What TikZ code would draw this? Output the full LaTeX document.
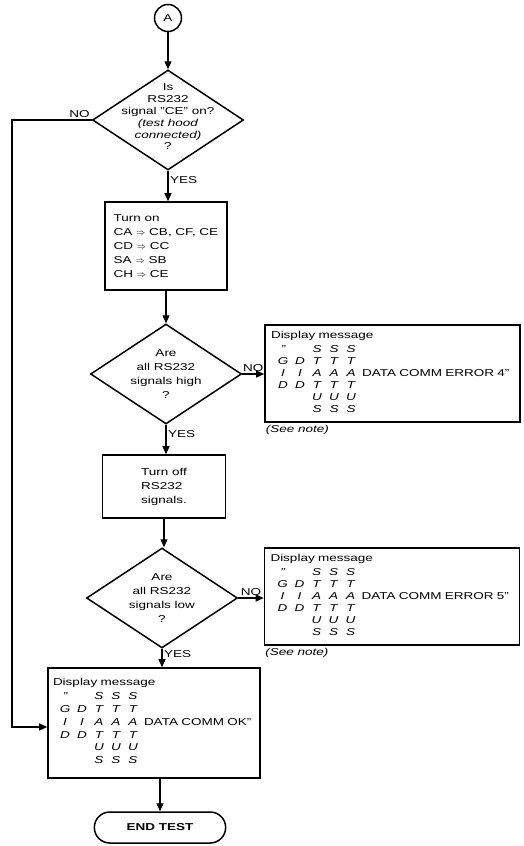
\documentclass[tikz,border=0pt]{standalone}
\usepackage{fontspec}
\setmainfont[FakeStretch=1.35]{Liberation Sans}
\usepackage{array}
\usepackage{tikz}
\usetikzlibrary{shapes,arrows.meta,positioning}

\newcommand{\turnsto}{{\small$\Rightarrow$}}
\newcommand{\msglines}[1]{%
  Display message\\[2pt]
  \begin{tabular}{@{\hspace{6pt}}*{5}{>{\itshape}w{c}{12pt}@{\hspace{5pt}}}l@{}}
    ''\hspace{5pt} & & S & S & S \\
    G & D & T & T & T \\
    I & I & A & A & A & #1 \\
    D & D & T & T & T \\
      &   & U & U & U \\
      &   & S & S & S
  \end{tabular}}

\begin{document}
\begin{tikzpicture}[x=1pt, y=-1pt, font=\fontsize{10}{12}\selectfont,
    line width=1.3pt, >={Triangle[length=8pt,width=7pt]},
    conn/.style={draw, circle, minimum size=27pt, inner sep=0pt, line width=1.5pt},
    decision/.style={draw, diamond, minimum width=151pt, minimum height=100pt, inner sep=0pt, line width=1.5pt},
    dtext/.style={align=center, inner sep=0pt},
    proc/.style={draw, rectangle, align=left, line width=1.6pt},
    msg/.style={draw, rectangle, align=left, line width=1.6pt, inner xsep=6pt, text width=243pt, minimum height=97pt},
    term/.style={draw, rounded rectangle, minimum width=138pt, minimum height=31pt, line width=1.5pt, font=\bfseries},
    yes/.style={right, pos=0.3, inner sep=1.5pt},
    note/.style={font=\itshape, inner sep=1pt}]
    \useasboundingbox (0,0) rectangle (523,846);

    \node[conn] (A) at (168,18) {A};
    \node[decision] (d1) at (168,120) {};
    \node[dtext, font=\fontsize{10}{11.8}\selectfont] (d1t) at (168,117) {Is\\RS232\\signal ''CE'' on?\\\textit{(test hood}\\\textit{connected)}\\?};
    \node[proc, minimum width=122pt, minimum height=88pt, font=\fontsize{10}{14}\selectfont] (on) at (166,246)
        {Turn on\\CA \turnsto{} CB, CF, CE\\CD \turnsto{} CC\\SA \turnsto{} SB\\CH \turnsto{} CE};

    \node[decision] (d2) at (166,374) {};
    \node[dtext, font=\fontsize{10}{14}\selectfont] (d2t) at (d2) {Are\\all RS232\\signals high\\?};
    \node[msg] (err1) at (392.5,373.5) {\msglines{DATA COMM ERROR 4''}};
    \node[note, below right=1pt and 0pt of err1.south west] (note1) {(See note)};

    \node[proc, minimum width=123pt, minimum height=63pt, font=\fontsize{10}{14}\selectfont] (off) at (164,486.5) {Turn off\\RS232\\signals.};

    \node[decision] (d3) at (162,598) {};
    \node[dtext, font=\fontsize{10}{14}\selectfont] (d3t) at (d3) {Are\\all RS232\\signals low\\?};
    \node[msg] (err2) at (392,596.5) {\msglines{DATA COMM ERROR 5''}};
    \node[note, below right=1pt and 0pt of err2.south west] (note2) {(See note)};

    \node[msg, text width=202pt, inner xsep=5pt, minimum height=110pt, font=\fontsize{10}{12.8}\selectfont] (ok) at (154,723) {\msglines{DATA COMM OK''}};
    \node[term] (end) at (160,827.5) {END TEST};
    \coordinate (back) at (12,120);

    \draw[->] (A.south) -- (A.south |- d1.north);
    \draw[->] (d1.south) -- node[yes] {YES} (d1.south |- on.north);
    \draw[->] (d1.west) -- node[above left, pos=0, inner sep=1.5pt] {NO} (back) |- ([yshift=-4pt]ok.west);
    \draw[->] (on.south) -- (on.south |- d2.north);
    \draw[->] (d2.east) -- node[above, inner sep=1.5pt] {NO} (d2.east -| err1.west);
    \draw[->] (d2.south) -- node[yes] {YES} (d2.south |- off.north);
    \draw[->] (off.south) -- (off.south |- d3.north);
    \draw[->] (d3.east) -- node[above, inner sep=1.5pt] {NO} (d3.east -| err2.west);
    \draw[->] (d3.south) -- node[yes] {YES} (d3.south |- ok.north);
    \draw[->] (end.north |- ok.south) -- (end.north);
\end{tikzpicture}
\end{document}
